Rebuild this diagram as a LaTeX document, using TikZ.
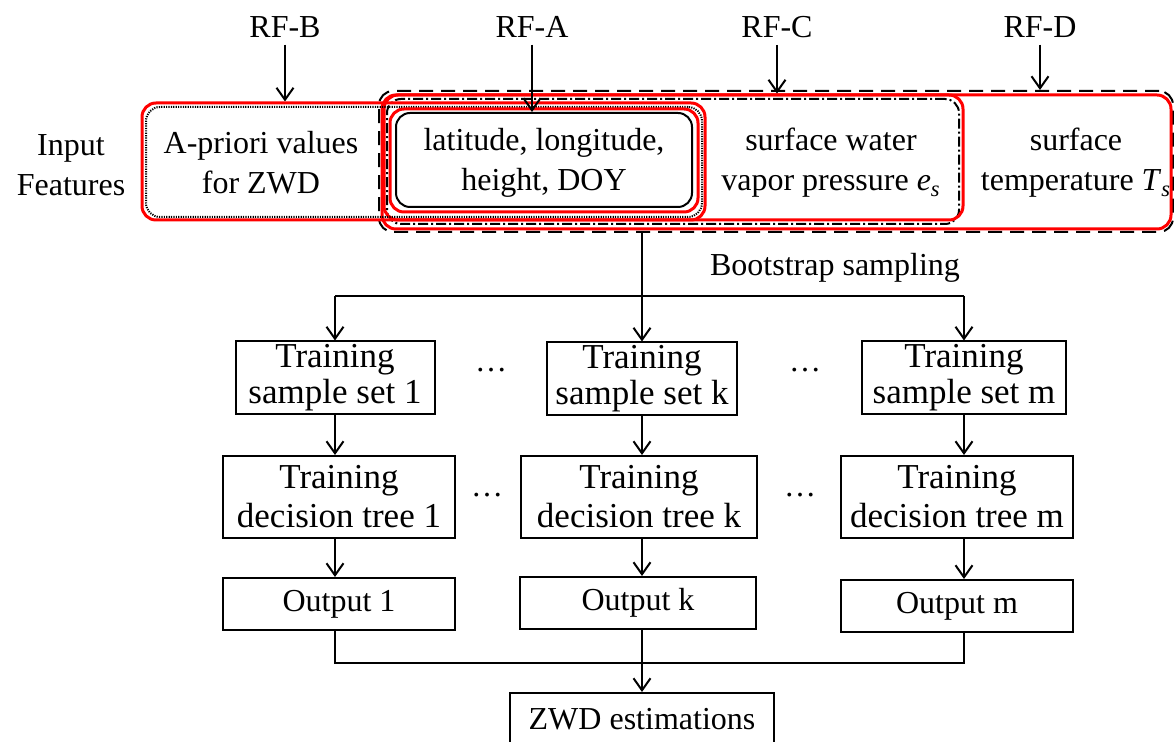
\documentclass[tikz,border=0pt]{standalone}
\usepackage{fontspec}
\setmainfont{Liberation Serif}
\usetikzlibrary{arrows.meta, positioning, fit}

\begin{document}
\begin{tikzpicture}[x=0.5pt, y=-0.5pt,
    >={Straight Barb[length=6pt,width=8.5pt]},
    every node/.style={font=\fontsize{16}{18}\selectfont, align=center},
    toptext/.style={font=\fontsize{16}{20}\selectfont},
    proc/.style={draw, line width=1pt, inner sep=0pt},
    sample/.style={proc, font=\fontsize{17.5}{18}\selectfont, minimum height=36.5pt},
    tree/.style={proc, font=\fontsize{17.5}{19.5}\selectfont, minimum height=41pt},
    grp/.style={inner sep=0pt, rounded corners=7pt, line width=1pt},
    redgrp/.style={grp, draw=red, line width=1.5pt},
    line/.style={line width=1pt}]
    \useasboundingbox (0,0) rectangle (1174,742);

    % model labels
    \node (rfB) at (285,27) {RF-B};
    \node (rfA) at (532,27) {RF-A};
    \node (rfC) at (777,27) {RF-C};
    \node (rfD) at (1040,27) {RF-D};

    % feature groups
    \node[grp, draw, dash pattern=on 7pt off 4pt, fit={(379,91) (1173,232)}] (rfDdash) {};
    \node[redgrp, fit={(382,95) (1171,229)}] (rfDred) {};
    \node[grp, draw, dash pattern=on 5pt off 1.5pt on 1pt off 1.5pt, fit={(387,99) (959,224)}] (rfCdash) {};
    \node[redgrp, fit={(384,95) (963,220)}] (rfCred) {};
    \node[redgrp, fit={(142,103) (705,220)}] (rfBred) {};
    \node[grp, draw, dash pattern=on 0.6pt off 0.6pt, fit={(146,107) (702,217)}] (rfBdot) {};
    \node[redgrp, fit={(390,109) (698,212)}] (rfAred) {};
    \node[grp, draw, fit={(396,113) (692,207)}] (latbox) {};

    \node[toptext] (input) at (71,165) {Input\\Features};
    \node[toptext] (apriori) at (261,163) {A-priori values\\for ZWD};
    \node[toptext] (lat) at (544,163) {latitude, longitude,\\height, DOY};
    \node[toptext] (vapor) at (831,163) {surface water\\vapor pressure \textit{e}\textsubscript{\textit{s}}};
    \node[toptext] (temp) at (1076,163) {surface\\temperature \textit{T}\textsubscript{\textit{s}}};

    \draw[->, line] (rfB) -- (rfB |- rfBred.north);
    \draw[->, line] (rfA) -- (rfA |- latbox.north);
    \draw[->, line] (rfC) -- (rfC |- rfCred.north);
    \draw[->, line] (rfD) -- (rfD |- rfDdash.north);

    % bootstrap
    \node (boot) at (835,268) {Bootstrap sampling};
    \node[sample, minimum width=99.5pt] (ts1) at (335,378) {Training\\sample set 1};
    \node[sample, minimum width=95pt] (tsk) at (642,379) {Training\\sample set k};
    \node[sample, minimum width=102pt] (tsm) at (964,378) {Training\\sample set m};
    \node (d1) at (491,370) {\ldots};
    \node (d2) at (805,370) {\ldots};

    \coordinate (split) at (641,296);
    \draw[->, line] (tsk |- rfDdash.south) -- (tsk);
    \draw[line] (ts1.north |- split) -- (tsm.north |- split);
    \draw[->, line] (ts1.north |- split) -- (ts1);
    \draw[->, line] (tsm.north |- split) -- (tsm);

    % trees
    \node[tree, minimum width=116pt] (dt1) at (339,497) {Training\\decision tree 1};
    \node[tree, minimum width=118pt] (dtk) at (639,497) {Training\\decision tree k};
    \node[tree, minimum width=116pt] (dtm) at (957,497) {Training\\decision tree m};
    \node (d3) at (487,495) {\ldots};
    \node (d4) at (800,495) {\ldots};

    \draw[->, line] (ts1) -- (ts1 |- dt1.north);
    \draw[->, line] (tsk) -- (tsk |- dtk.north);
    \draw[->, line] (tsm) -- (tsm |- dtm.north);

    % outputs
    \node[proc, minimum width=116pt, minimum height=26pt] (out1) at (339,604) {Output 1};
    \node[proc, minimum width=118pt, minimum height=26pt] (outk) at (638,603) {Output k};
    \node[proc, minimum width=116pt, minimum height=26pt] (outm) at (957,606) {Output m};

    \draw[->, line] (ts1 |- dt1.south) -- (ts1 |- out1.north);
    \draw[->, line] (tsk |- dtk.south) -- (tsk |- outk.north);
    \draw[->, line] (tsm |- dtm.south) -- (tsm |- outm.north);

    \node[proc, minimum width=132pt, minimum height=26pt] (zwd) at (642,719) {ZWD estimations};
    \coordinate (merge) at (642,663);
    \draw[line] (out1.south -| ts1) -- (ts1 |- merge) -- (tsm |- merge) -- (outm.south -| tsm);
    \draw[->, line] (zwd.north |- outk.south) -- (zwd);
\end{tikzpicture}
\end{document}
